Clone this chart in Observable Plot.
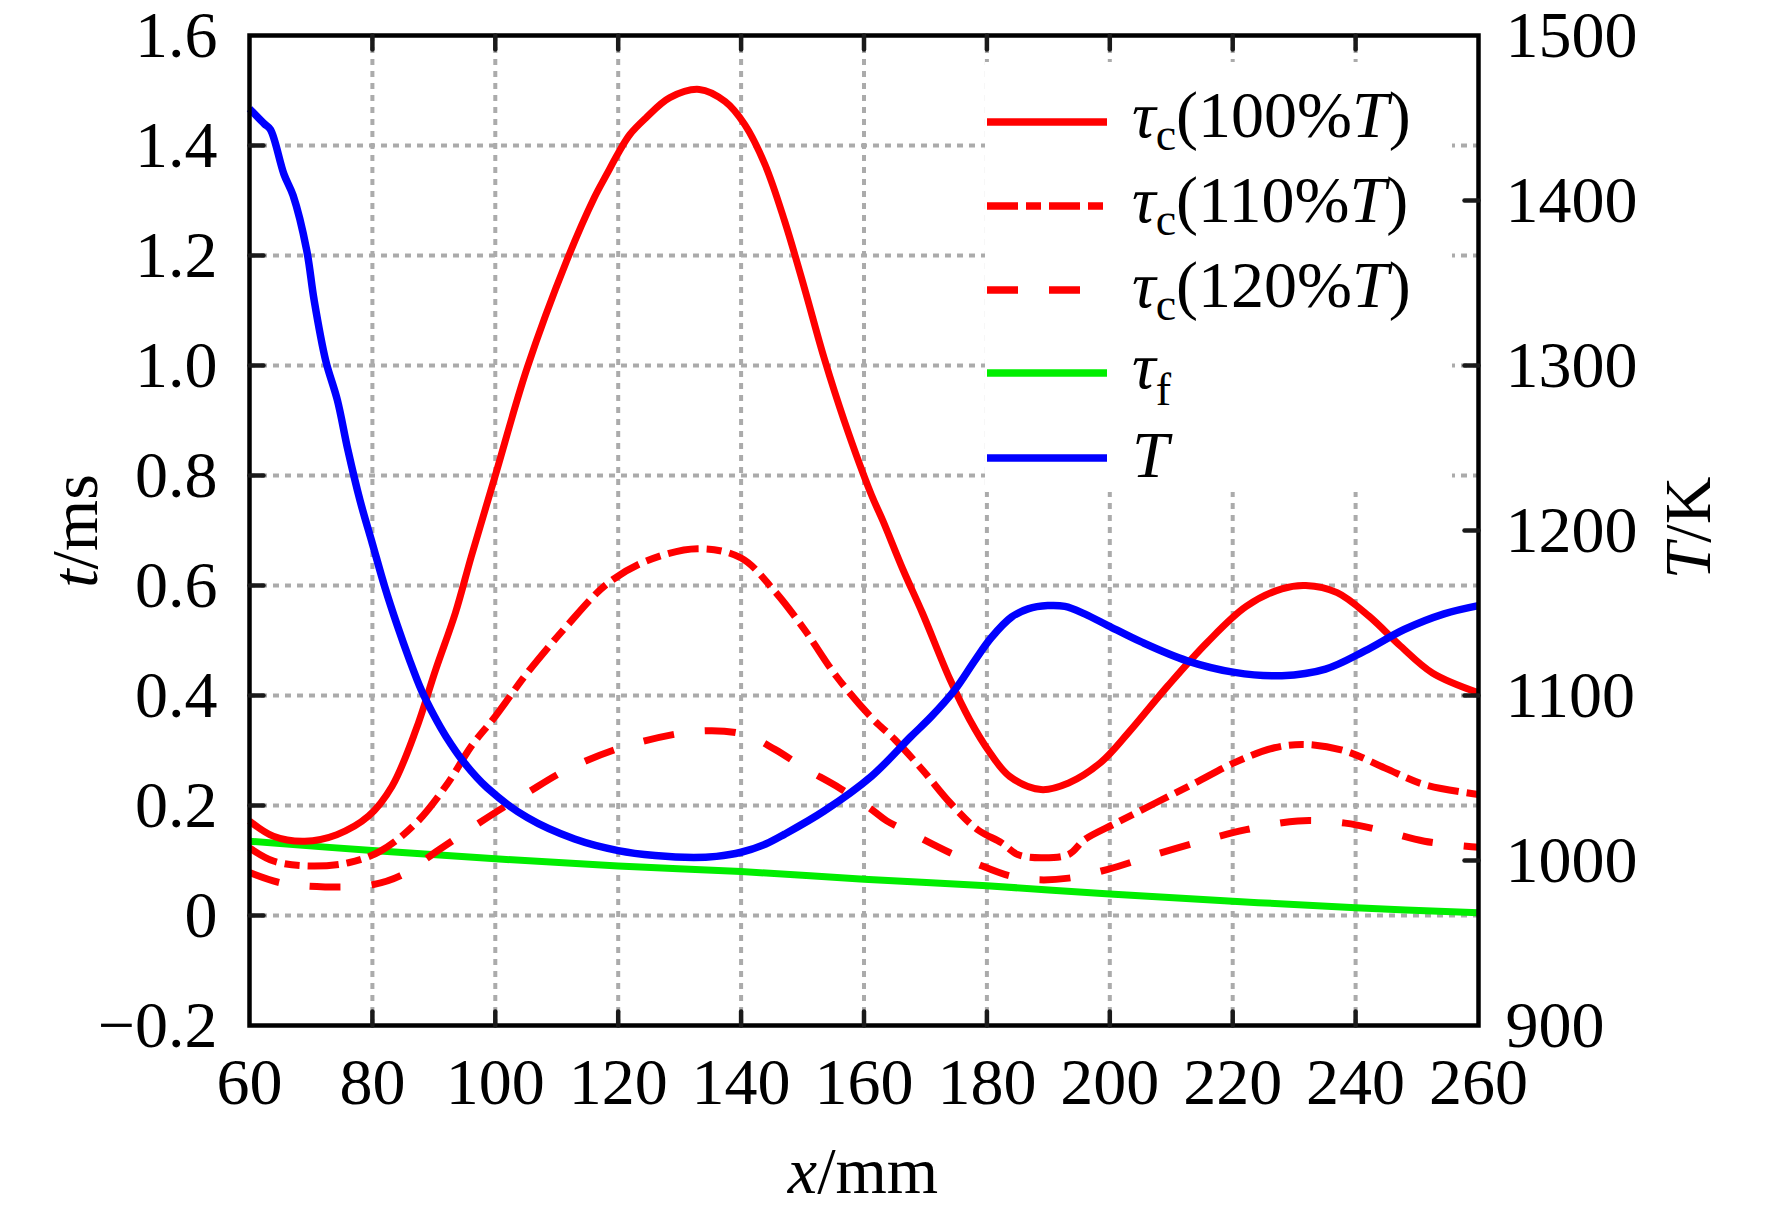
<!DOCTYPE html>
<html><head><meta charset="utf-8">
<script src="https://cdn.jsdelivr.net/npm/d3@7"></script>
<script src="https://cdn.jsdelivr.net/npm/@observablehq/plot@0.6"></script>
<style>html,body{margin:0;padding:0;background:#fff}</style>
</head><body><div id="chart"></div>
<script>
// ---- data ----
const x100 = [60,63.9,69,74.2,79.4,83.2,87.1,90.3,93.5,96.1,100,105.2,111.6,116.1,118.1,120,121.9,124.5,128.4,133.2,137.4,140.6,143.9,147.1,150.3,153.5,156.8,161.2,163.1,166.3,169.5,174,177.2,180.5,183.7,188.8,193.3,198.5,203,209.4,215.8,222.2,228,231.9,237,242.2,247.3,252.5,260];
const tau100 = [0.172,0.144,0.135,0.147,0.181,0.235,0.338,0.447,0.55,0.653,0.8,0.996,1.19,1.305,1.347,1.386,1.42,1.45,1.487,1.502,1.48,1.438,1.365,1.262,1.141,1.014,0.899,0.765,0.717,0.63,0.55,0.429,0.356,0.296,0.253,0.229,0.241,0.278,0.332,0.417,0.496,0.562,0.594,0.6,0.587,0.544,0.49,0.441,0.405];

const x110 = [60,63.9,69.7,76.1,81.3,87.1,92.3,96.1,100,105.2,111.6,118.1,124.5,132.9,140,145.2,150.3,155.5,161.2,165,169.5,174,178.5,182.4,185,188.8,193.3,195.9,201,207.5,213.9,220.3,226.8,231.9,238.3,244.8,251.2,260];
const tau110 = [0.123,0.099,0.09,0.096,0.117,0.168,0.241,0.308,0.362,0.441,0.526,0.602,0.644,0.667,0.65,0.593,0.52,0.435,0.36,0.32,0.265,0.205,0.156,0.132,0.111,0.105,0.111,0.138,0.168,0.205,0.241,0.278,0.305,0.311,0.299,0.268,0.238,0.22];

const x120 = [60,65.2,72.3,80,84.5,90.9,98.7,105.2,111.6,121.3,132.9,140.6,145.5,150.3,156,161.2,163.7,167.6,174,177.9,183.7,188.2,193.3,199.7,207.5,215.8,222.2,230.6,238.3,244.8,251.2,260];
const tau120 = [0.078,0.059,0.052,0.056,0.072,0.12,0.178,0.223,0.265,0.308,0.335,0.329,0.302,0.268,0.232,0.193,0.172,0.15,0.114,0.096,0.072,0.065,0.068,0.084,0.111,0.138,0.156,0.172,0.168,0.153,0.135,0.124];

const xTf = [60,80,100,120,140,160,180,200,220,240,260];
const tauF = [0.135,0.118,0.103,0.09,0.08,0.066,0.054,0.039,0.026,0.014,0.005];

const xT = [60,62.4,63.4,65.6,67.1,69.3,70.5,72.4,74.3,76,78,80,82,84,86,88,90,92,95,98.7,105.2,112.9,120,126,132.3,136,140,144,147.1,153.5,161.2,167.6,170.9,174.7,178,180.7,184,186.7,189.9,192.7,195.9,199.7,205.2,212.6,220.3,228,235.1,241.5,247.9,254.4,260];
const tempT = [1455.6,1446.5,1443,1416,1403,1370,1340,1303,1279,1249,1218,1192,1166,1143,1122,1103,1088,1075,1059,1044,1026,1013,1006,1003,1001.8,1002.5,1005,1010,1016,1030,1051,1075,1087,1103,1121,1135,1147.5,1152.5,1154.5,1154,1149.5,1142.4,1132.3,1121,1114,1112,1116,1127,1140,1149.5,1154.5];

const xTicks = [60,80,100,120,140,160,180,200,220,240,260];
const yTicks = [-0.2,0,0.2,0.4,0.6,0.8,1.0,1.2,1.4,1.6];
const TTicks = [900,1000,1100,1200,1300,1400,1500];
const legendLabels = [
  {sub:"c", pct:"(100%", color:"#ff0000", dash:null},
  {sub:"c", pct:"(110%", color:"#ff0000", dash:"31,8,15,8"},
  {sub:"c", pct:"(120%", color:"#ff0000", dash:"31,31"},
  {sub:"f", pct:null, color:"#00ee00", dash:null},
  {sub:null, pct:null, color:"#0000ff", dash:null}
];

// ---- helpers ----
const yDom = [-0.2, 1.6], TDom = [900, 1500];
const TtoY = T => yDom[0] + (T - TDom[0]) * (yDom[1] - yDom[0]) / (TDom[1] - TDom[0]);
const YtoT = y => TDom[0] + (y - yDom[0]) * (TDom[1] - TDom[0]) / (yDom[1] - yDom[0]);
const tbl = (xs, vs) => xs.map((x, i) => ({x, v: vs[i]}));
const FONT = "'Liberation Serif', 'Times New Roman', Times, serif";
const FS = 66;

const tickShape = {draw(ctx, l) { ctx.moveTo(0, 0); ctx.lineTo(0, -l); }};
const tickStyle = {length: 14, anchor: "start", shape: tickShape, stroke: "#1a1a1a", strokeWidth: 4.5};

const lineOpts = (color, dash, w) => ({x: "x", y: "v", stroke: color, strokeWidth: w, curve: "catmull-rom",
  strokeLinecap: "butt", strokeLinejoin: "round", strokeDasharray: dash || undefined});

function legendBox() {
  const g = d3.create("svg:g");
  g.append("rect").attr("x", 985).attr("y", 62).attr("width", 467).attr("height", 430).attr("fill", "white");
  return g.node();
}

function rich(g, x, y, parts, attrs = {}) {
  const t = g.append("text").attr("x", x).attr("y", y).attr("font-size", FS).attr("font-family", FONT)
    .attr("fill", "black").attr("text-anchor", "start");
  for (const [k, v] of Object.entries(attrs)) t.attr(k, v);
  for (const p of parts) {
    const s = t.append("tspan").text(p.t);
    if (p.i) s.attr("font-style", "italic");
    if (p.fs) s.attr("font-size", p.fs);
    if (p.dy) s.attr("dy", p.dy);
  }
  return t;
}

function legendContent() {
  const g = d3.create("svg:g");
  const lineY = [122, 206, 290, 373, 458];
  const baseY = [137, 222, 307, 388, 477];
  legendLabels.forEach((d, i) => {
    const ln = g.append("line").attr("x1", 987).attr("x2", 1107).attr("y1", lineY[i]).attr("y2", lineY[i])
      .attr("stroke", d.color).attr("stroke-width", 7.5);
    if (d.dash) ln.attr("stroke-dasharray", d.dash);
    let parts;
    if (d.sub === null) parts = [{t: "T", i: true}];
    else if (d.pct === null) parts = [{t: "τ", i: true}, {t: d.sub, fs: 46, dy: 17}];
    else parts = [{t: "τ", i: true}, {t: d.sub, fs: 46, dy: 13}, {t: d.pct, dy: -13}, {t: "T", i: true}, {t: ")"}];
    rich(g, 1132, baseY[i], parts);
  });
  // axis titles
  rich(g, 0, 0, [{t: "t", i: true}, {t: "/ms"}], {"text-anchor": "middle", transform: "translate(97,531) rotate(-90)"});
  rich(g, 0, 0, [{t: "T", i: true}, {t: "/K"}], {"text-anchor": "middle", transform: "translate(1710,528) rotate(-90)"});
  rich(g, 863, 1193, [{t: "x", i: true}, {t: "/mm"}], {"text-anchor": "middle"});
  return g.node();
}

const fmtY = d => d === 0 ? "0" : (d < 0 ? "\u2212" : "") + Math.abs(d).toFixed(1);

const plot = Plot.plot({
  width: 1772, height: 1214,
  marginLeft: 249, marginRight: 294, marginTop: 35, marginBottom: 189,
  x: {domain: [60, 260]},
  y: {domain: yDom},
  style: {fontFamily: FONT, fontSize: FS + "px", background: "white", color: "black", overflow: "visible"},
  marks: [
    Plot.gridX(xTicks.slice(1, -1), {stroke: "#ababab", strokeOpacity: 1, strokeWidth: 4, strokeDasharray: "6,6"}),
    Plot.gridY(yTicks.slice(1, -1), {stroke: "#ababab", strokeOpacity: 1, strokeWidth: 4, strokeDasharray: "6,6"}),
    legendBox,
    Plot.line(tbl(xTf, tauF), lineOpts("#00ee00", null, 7)),
    Plot.line(tbl(x120, tau120), lineOpts("#ff0000", "31,31", 7)),
    Plot.line(tbl(x110, tau110), lineOpts("#ff0000", "31,8,15,8", 7)),
    Plot.line(tbl(x100, tau100), lineOpts("#ff0000", null, 7)),
    Plot.line(xT.map((x, i) => ({x, v: TtoY(tempT[i])})), lineOpts("#0000ff", null, 7.5)),
    Plot.frame({stroke: "black", strokeWidth: 4.5}),
    // inward tick marks
    Plot.vector(xTicks.slice(1, -1), {x: d => d, y: yDom[0], rotate: 0, ...tickStyle}),
    Plot.vector(xTicks.slice(1, -1), {x: d => d, y: yDom[1], rotate: 180, ...tickStyle}),
    Plot.vector(yTicks.slice(1, -1), {x: 60, y: d => d, rotate: 90, ...tickStyle}),
    Plot.vector(TTicks.slice(1, -1), {x: 260, y: d => TtoY(d), rotate: -90, ...tickStyle}),
    // tick labels
    Plot.axisX(xTicks, {anchor: "bottom", tickSize: 0, tickPadding: 32, fontSize: FS, label: null, tickFormat: d => String(d)}),
    Plot.axisY(yTicks, {anchor: "left", tickSize: 0, tickPadding: 32, fontSize: FS, label: null, tickFormat: fmtY}),
    Plot.axisY(TTicks.map(TtoY), {anchor: "right", tickSize: 0, tickPadding: 27, fontSize: FS, label: null, tickFormat: d => String(Math.round(YtoT(d)))}),
    legendContent
  ]
});
document.getElementById("chart").appendChild(plot);
</script>
</body></html>
